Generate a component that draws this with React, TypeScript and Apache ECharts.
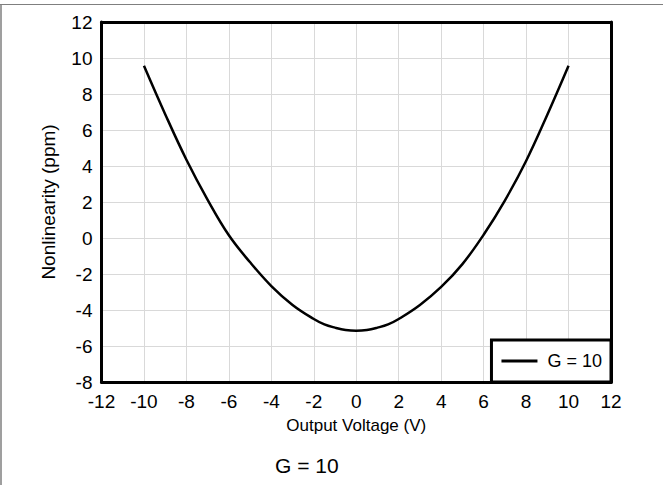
import React, { useEffect, useRef } from "react";
import * as echarts from "echarts";

const xValues: number[] = [-10, -9, -8, -7, -6, -5, -4, -3, -2, -1.5, -1, -0.5, 0, 0.5, 1, 1.5, 2, 3, 4, 5, 6, 7, 8, 9, 10];
const nonlinearity: number[] = [9.57, 6.88, 4.35, 2.12, 0.15, -1.35, -2.67, -3.72, -4.5, -4.8, -4.98, -5.11, -5.15, -5.11, -4.98, -4.8, -4.5, -3.72, -2.72, -1.45, 0.18, 2.08, 4.28, 6.85, 9.57];
const seriesName = "G = 10";
const titleText = "G = 10";
const xAxisName = "Output Voltage (V)";
const yAxisName = "Nonlinearity (ppm)";

const FONT = "Liberation Sans, Arial, sans-serif";

export default function App() {
  const ref = useRef<HTMLDivElement>(null);
  useEffect(() => {
    if (!ref.current) return;
    const chart = echarts.init(ref.current, null, { renderer: "svg" });
    const data = xValues.map((x, i) => [x, nonlinearity[i]]);
    const frameLine = { show: true, onZero: false, lineStyle: { color: "#000", width: 3 } };
    chart.setOption({
      animation: false,
      backgroundColor: "#fff",
      textStyle: { fontFamily: FONT },
      title: {
        text: titleText,
        left: 275,
        top: 455,
        padding: 0,
        textStyle: { fontFamily: FONT, fontSize: 21, fontWeight: "normal", color: "#000" },
      },
      graphic: [
        { type: "line", shape: { x1: 0, y1: 4.5, x2: 663, y2: 4.5 }, style: { stroke: "#7f7f7f", lineWidth: 1.2 }, silent: true },
        { type: "line", shape: { x1: 1, y1: 4, x2: 1, y2: 485 }, style: { stroke: "#7f7f7f", lineWidth: 1.5 }, silent: true },
      ],
      grid: { left: 101.5, right: 52, top: 22, bottom: 103, containLabel: false },
      legend: {
        data: [seriesName],
        right: 52,
        bottom: 103,
        orient: "horizontal",
        icon: "rect",
        itemWidth: 36,
        itemHeight: 3,
        backgroundColor: "#fff",
        borderColor: "#000",
        borderWidth: 3,
        borderRadius: 0,
        padding: [12, 9, 12, 10],
        textStyle: { fontFamily: FONT, fontSize: 18, color: "#000", padding: [0, 0, 0, 5] },
        itemStyle: { color: "#000" },
      },
      xAxis: [
        {
          type: "value",
          min: -12,
          max: 12,
          interval: 2,
          position: "bottom",
          axisLine: frameLine,
          axisTick: { show: false },
          axisLabel: { fontFamily: FONT, fontSize: 19, color: "#000", margin: 10 },
          splitLine: { show: true, lineStyle: { color: "#d9d9d9", width: 1 } },
          name: xAxisName,
          nameLocation: "middle",
          nameGap: 35,
          nameTextStyle: { fontFamily: FONT, fontSize: 17, color: "#000" },
        },
        {
          type: "value",
          min: -12,
          max: 12,
          interval: 2,
          position: "top",
          axisLine: frameLine,
          axisTick: { show: false },
          axisLabel: { show: false },
          splitLine: { show: false },
        },
      ],
      yAxis: [
        {
          type: "value",
          min: -8,
          max: 12,
          interval: 2,
          position: "left",
          axisLine: frameLine,
          axisTick: { show: false },
          axisLabel: { fontFamily: FONT, fontSize: 19, color: "#000", margin: 9 },
          splitLine: { show: true, lineStyle: { color: "#d9d9d9", width: 1 } },
          name: yAxisName,
          nameLocation: "middle",
          nameGap: 44,
          nameTextStyle: { fontFamily: FONT, fontSize: 19, color: "#000" },
        },
        {
          type: "value",
          min: -8,
          max: 12,
          interval: 2,
          position: "right",
          axisLine: frameLine,
          axisTick: { show: false },
          axisLabel: { show: false },
          splitLine: { show: false },
        },
      ],
      series: [
        {
          name: seriesName,
          type: "line",
          data,
          smooth: 0.4,
          showSymbol: false,
          symbol: "none",
          lineStyle: { color: "#000", width: 2.5 },
          itemStyle: { color: "#000" },
        },
      ],
    });
    return () => chart.dispose();
  }, []);
  return (
    <div
      ref={ref}
      style={{ position: "absolute", left: 0, top: 0, width: 663, height: 485, background: "#fff" }}
    />
  );
}
